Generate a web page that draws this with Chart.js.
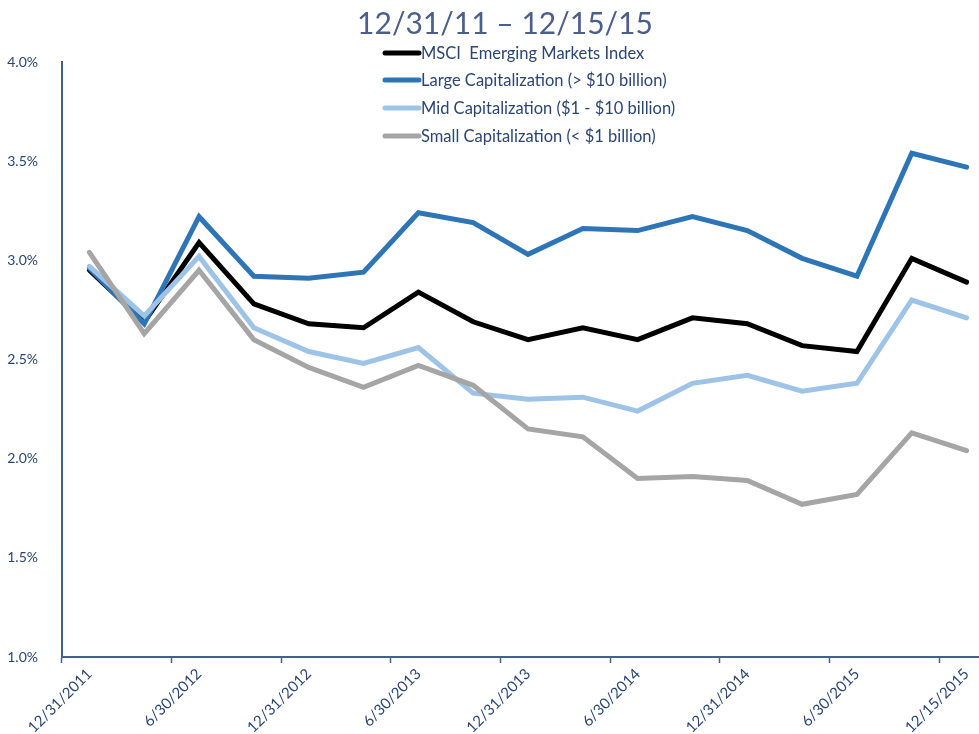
<!DOCTYPE html>
<html>
<head>
<meta charset="utf-8">
<script src="https://cdn.jsdelivr.net/npm/chart.js@4"></script>
<style>
  html, body { margin: 0; padding: 0; background: #fff; overflow: hidden; }
  #wrap { width: 1010px; height: 734px; }
</style>
</head>
<body>
<div id="wrap"><canvas id="yieldChart" width="1010" height="734"></canvas></div>
<script>
const dates = ['12/31/2011', '3/31/2012', '6/30/2012', '9/30/2012', '12/31/2012', '3/31/2013',
  '6/30/2013', '9/30/2013', '12/31/2013', '3/31/2014', '6/30/2014', '9/30/2014',
  '12/31/2014', '3/31/2015', '6/30/2015', '9/30/2015', '12/15/2015'];

const msci = [2.95, 2.69, 3.09, 2.78, 2.68, 2.66, 2.84, 2.69, 2.60, 2.66, 2.60, 2.71, 2.68, 2.57, 2.54, 3.01, 2.89];
const largeCap = [2.96, 2.68, 3.22, 2.92, 2.91, 2.94, 3.24, 3.19, 3.03, 3.16, 3.15, 3.22, 3.15, 3.01, 2.92, 3.54, 3.47];
const midCap = [2.97, 2.72, 3.02, 2.66, 2.54, 2.48, 2.56, 2.33, 2.30, 2.31, 2.24, 2.38, 2.42, 2.34, 2.38, 2.80, 2.71];
const smallCap = [3.04, 2.63, 2.95, 2.60, 2.46, 2.36, 2.47, 2.37, 2.15, 2.11, 1.90, 1.91, 1.89, 1.77, 1.82, 2.13, 2.04];

const yTicks = [1.0, 1.5, 2.0, 2.5, 3.0, 3.5, 4.0];
const titleText = '12/31/11 \u2013 12/15/15';

const navy = '#2b4674';
const axisColor = '#46608c';
const fontName = 'Lato, "Open Sans", sans-serif';

// title and in-plot legend, Excel style
const decorations = {
  id: 'decorations',
  afterDraw(chart) {
    const c = chart.ctx;
    c.save();
    c.fillStyle = '#4b5f8d';
    c.font = '30px ' + fontName;
    c.textAlign = 'center';
    c.textBaseline = 'alphabetic';
    c.fillText(titleText, 505, 34);

    c.font = '16.5px ' + fontName;
    c.textAlign = 'left';
    c.textBaseline = 'middle';
    const rows = [53, 80, 108, 136];
    chart.data.datasets.forEach((ds, i) => {
      c.strokeStyle = ds.borderColor;
      c.lineWidth = 5;
      c.lineCap = 'round';
      c.beginPath();
      c.moveTo(385, rows[i]);
      c.lineTo(419, rows[i]);
      c.stroke();
      c.fillStyle = navy;
      c.fillText(ds.label, 421, rows[i] + 1);
    });
    c.restore();
  }
};

function series(label, data, color, order) {
  return {
    label: label,
    data: data,
    borderColor: color,
    backgroundColor: color,
    borderWidth: 5,
    borderCapStyle: 'round',
    pointRadius: 0,
    tension: 0,
    order: order
  };
}

new Chart(document.getElementById('yieldChart'), {
  type: 'line',
  data: {
    labels: dates,
    datasets: [
      series('MSCI  Emerging Markets Index', msci, '#000000', 3),
      series('Large Capitalization (> $10 billion)', largeCap, '#2e75b6', 2),
      series('Mid Capitalization ($1 - $10 billion)', midCap, '#9dc3e6', 1),
      series('Small Capitalization (< $1 billion)', smallCap, '#a5a5a5', 0)
    ]
  },
  options: {
    responsive: false,
    animation: false,
    layout: { padding: { top: 62, right: 16, bottom: 0, left: 0 } },
    plugins: {
      legend: { display: false },
      title: { display: false },
      tooltip: { enabled: false }
    },
    scales: {
      x: {
        offset: true,
        afterFit(scale) { scale.height = 77; },
        border: { color: axisColor, width: 2 },
        grid: {
          offset: true,
          drawOnChartArea: false,
          drawTicks: true,
          tickLength: 6,
          tickWidth: 1.5,
          tickColor: (ctx) => ctx.index % 2 === 0 ? axisColor : 'rgba(0,0,0,0)'
        },
        ticks: {
          autoSkip: false,
          maxRotation: 45,
          minRotation: 45,
          padding: 2,
          color: navy,
          font: { family: fontName, size: 15 },
          callback: function(val, i) { return i % 2 === 0 ? this.getLabelForValue(val) : ''; }
        }
      },
      y: {
        min: 1,
        max: 4,
        afterFit(scale) { scale.width = 62; },
        afterBuildTicks(scale) { scale.ticks = yTicks.map(v => ({ value: v })); },
        border: { color: axisColor, width: 2 },
        grid: { display: false },
        ticks: {
          padding: 16,
          color: navy,
          font: { family: fontName, size: 14 },
          callback: v => v.toFixed(1) + '%'
        }
      }
    }
  },
  plugins: [decorations]
});
</script>
</body>
</html>
